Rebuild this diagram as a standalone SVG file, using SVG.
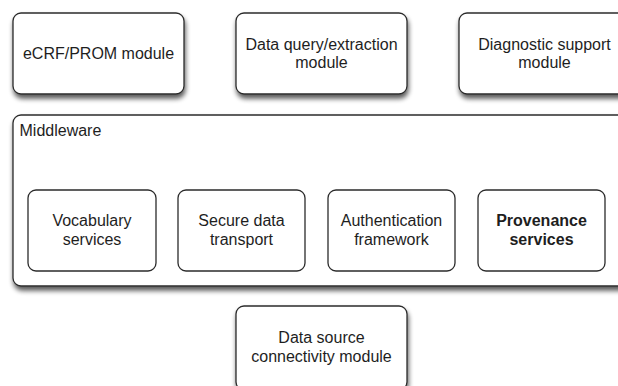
<svg xmlns="http://www.w3.org/2000/svg" width="618" height="386" viewBox="0 0 618 386">
<defs>
<filter id="sh" x="-10%" y="-10%" width="130%" height="140%">
<feGaussianBlur in="SourceAlpha" stdDeviation="2.4"/>
<feOffset dx="1" dy="3.5" result="b"/>
<feComponentTransfer><feFuncA type="linear" slope="0.65"/></feComponentTransfer>
<feMerge><feMergeNode/><feMergeNode in="SourceGraphic"/></feMerge>
</filter>
<style>
.box{fill:#fff;stroke:#2b2b2b;stroke-width:1.3}
.t{font-family:"Liberation Sans",Arial,sans-serif;font-size:16px;fill:#1e1e1e;text-anchor:middle}
.b{font-weight:bold}
.l{text-anchor:start}
</style>
</defs>
<rect width="618" height="386" fill="#fff"/>
<g id="ecrf">
<rect class="box" x="13" y="13" width="171" height="81" rx="8" filter="url(#sh)"/>
<text class="t" x="98.5" y="59">eCRF/PROM module</text>
</g>
<g id="dataquery">
<rect class="box" x="236" y="13" width="171" height="81" rx="8" filter="url(#sh)"/>
<text class="t" x="321.5" y="50">Data query/extraction</text>
<text class="t" x="321.5" y="68">module</text>
</g>
<g id="diagnostic">
<rect class="box" x="459" y="13" width="171" height="81" rx="8" filter="url(#sh)"/>
<text class="t" x="544.5" y="50">Diagnostic support</text>
<text class="t" x="544.5" y="68">module</text>
</g>
<g id="middleware">
<rect class="box" x="13" y="115" width="640" height="171" rx="8" filter="url(#sh)"/>
<text class="t l" x="19.5" y="136">Middleware</text>
</g>
<g id="vocabulary">
<rect class="box" x="28" y="190" width="128" height="81" rx="8"/>
<text class="t" x="92" y="226">Vocabulary</text>
<text class="t" x="92" y="245">services</text>
</g>
<g id="secure">
<rect class="box" x="178" y="190" width="127" height="81" rx="8"/>
<text class="t" x="241.5" y="226">Secure data</text>
<text class="t" x="241.5" y="245">transport</text>
</g>
<g id="authentication">
<rect class="box" x="328" y="190" width="127" height="81" rx="8"/>
<text class="t" x="391.5" y="226">Authentication</text>
<text class="t" x="391.5" y="245">framework</text>
</g>
<g id="provenance">
<rect class="box" x="478" y="190" width="127" height="81" rx="8"/>
<text class="t b" x="541.5" y="226">Provenance</text>
<text class="t b" x="541.5" y="245">services</text>
</g>
<g id="datasource">
<rect class="box" x="236" y="306" width="171" height="84" rx="8" filter="url(#sh)"/>
<text class="t" x="321.5" y="343">Data source</text>
<text class="t" x="321.5" y="362">connectivity module</text>
</g>
<g id="connectors"></g>
</svg>
